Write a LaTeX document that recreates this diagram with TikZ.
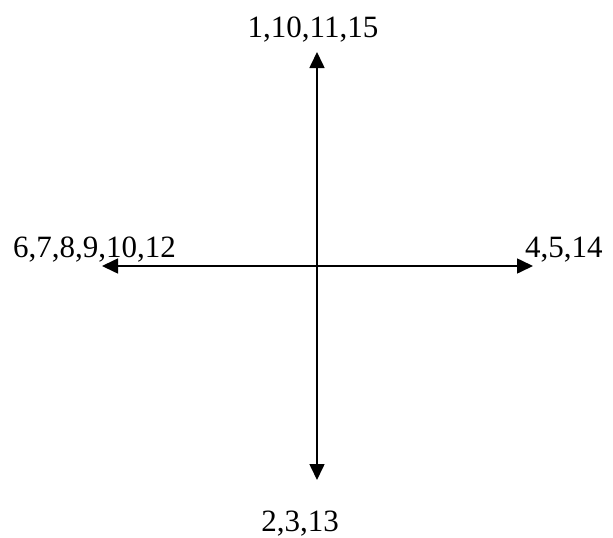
\documentclass[tikz,border=0pt]{standalone}
\usepackage{fontspec}
\setmainfont{Liberation Serif}
\usetikzlibrary{arrows.meta}
\begin{document}
\begin{tikzpicture}[x=1pt,y=-1pt,
  lbl/.style={inner sep=0pt, font=\fontsize{31}{31}\selectfont},
  axis/.style={line width=1.6pt, -{Triangle[length=16pt,width=15pt]}}]
\useasboundingbox (0,0) rectangle (613,538);
\coordinate (c) at (317,266);
\coordinate (tN) at (317,52);
\coordinate (tS) at (317,480);
\coordinate (tW) at (102,266);
\coordinate (tE) at (533,266);
\draw[axis] (c) -- (tN);
\draw[axis] (c) -- (tS);
\draw[axis] (c) -- (tW);
\draw[axis] (c) -- (tE);
\node[lbl, anchor=base] (n) at (313,37) {1,10,11,15};
\node[lbl, anchor=base, text depth=0pt] (s) at (300,531) {2,3,13};
\node[lbl, anchor=base west] (w) at (13,257) {6,7,8,9,10,12};
\node[lbl, anchor=base west] (e) at (525,257) {4,5,14};
\end{tikzpicture}
\end{document}
